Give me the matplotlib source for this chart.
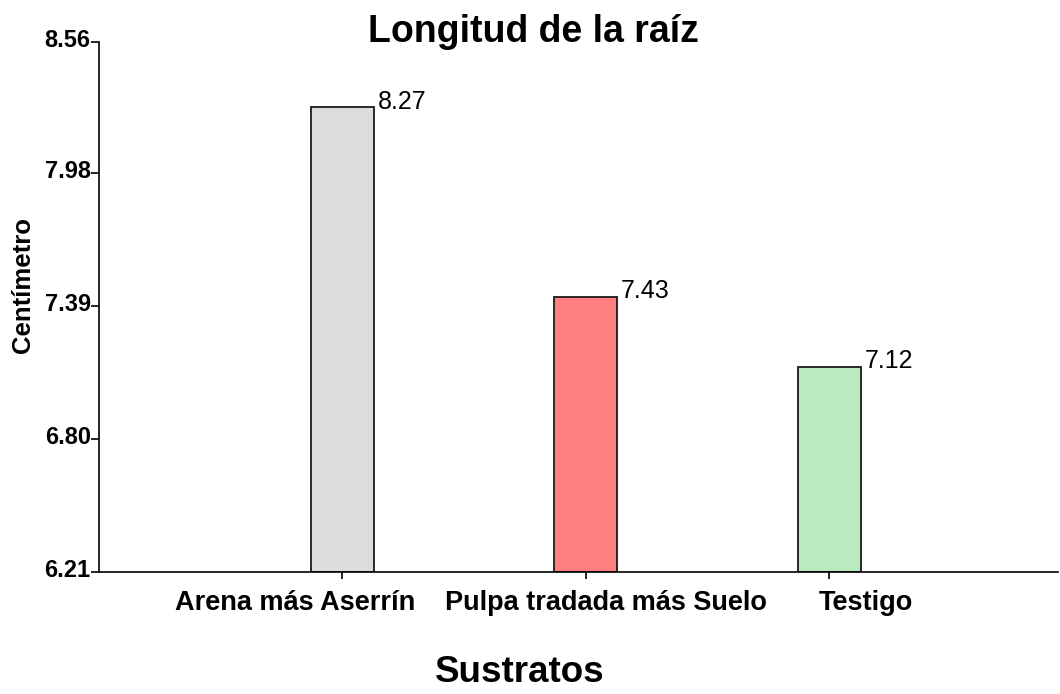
import matplotlib
matplotlib.use("Agg")
import matplotlib.pyplot as plt
from matplotlib.transforms import ScaledTranslation

categories = ["Arena más Aserrín", "Pulpa tradada más Suelo", "Testigo"]
values = [8.27, 7.43, 7.12]
colors = ["#dcdcdc", "#ff7f7f", "#b8ebc0"]
yticks = [6.21, 6.80, 7.39, 7.98, 8.56]
ytick_labels = ["6.21", "6.80", "7.39", "7.98", "8.56"]

plt.rcParams['font.family'] = ['Liberation Sans', 'DejaVu Sans']

DPI = 100
fig = plt.figure(figsize=(10.6, 6.94), dpi=DPI)
ax = fig.add_axes([99/1060, 1 - 572/694, (1058-99)/1060, (572-42)/694])

x = [1, 2, 3]
ax.bar(x, [v - yticks[0] for v in values], bottom=yticks[0], width=0.26,
       color=colors, edgecolor="#1a1a1a", linewidth=1.3, zorder=2)
for xi, v in zip(x, values):
    ax.annotate(f"{v:.2f}", xy=(xi + 0.13, v), xytext=(3.5*0.72, -1.5*0.72),
                textcoords="offset points", ha="left", va="baseline", fontsize=18)

ax.set_xlim(0, 3.94)
ax.set_ylim(yticks[0], yticks[-1])
ax.set_xticks(x)
ax.set_xticklabels(categories, fontsize=19.5, fontweight="bold")
ax.set_yticks(yticks)
ax.set_yticklabels(ytick_labels, fontsize=17, fontweight="bold")
ax.tick_params(axis="y", direction="out", length=6, width=1.2, pad=0)
ax.tick_params(axis="x", direction="out", length=5, width=1.2, pad=8)

# horizontal label offsets (pixels) as in the reference layout
x_offsets_px = [-47, 20, 37]
for lab, dx in zip(ax.get_xticklabels(), x_offsets_px):
    lab.set_transform(lab.get_transform() + ScaledTranslation(dx / DPI, 0, fig.dpi_scale_trans))
for lab in ax.get_yticklabels():
    lab.set_transform(lab.get_transform() + ScaledTranslation(0, 4 / DPI, fig.dpi_scale_trans))

for s in ["top", "right"]:
    ax.spines[s].set_visible(False)
for s in ["left", "bottom"]:
    ax.spines[s].set_linewidth(1.2)

fig.text(533/1060, 1 - 42/694, "Longitud de la raíz", ha="center", va="baseline",
         fontsize=27, fontweight="bold")
fig.text(520/1060, 1 - 682/694, "Sustratos", ha="center", va="baseline",
         fontsize=26.5, fontweight="bold")
fig.text(23/1060, 1 - 285/694, "Centímetro", ha="center", va="center",
         rotation=90, fontsize=18.5, fontweight="bold")

fig.savefig("out.png", dpi=DPI)
